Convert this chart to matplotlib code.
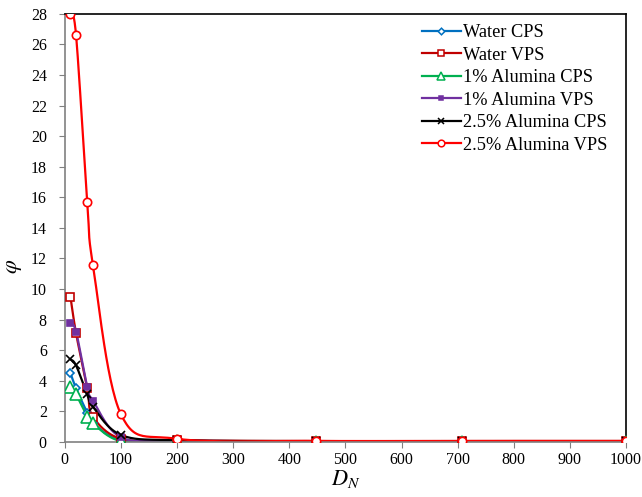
import numpy as np
import matplotlib
matplotlib.use("Agg")
import matplotlib.pyplot as plt

# ---- data ----
d_n = [10, 20, 40, 50, 100, 200, 447, 707, 1000]

water_cps = [4.5, 3.5, 1.9, 1.25, 0.1, 0.05, 0.03, 0.03, 0.03]
water_vps = [9.5, 7.1, 3.5, 1.65, 0.2, 0.1, 0.05, 0.05, 0.05]
al1_cps = [3.6, 3.1, 1.65, 1.2, 0.05, 0.03, 0.02, 0.02, 0.02]
al1_vps = [7.8, 7.2, 3.6, 2.7, 0.3, 0.08, 0.04, 0.04, 0.04]
al25_cps = [5.4, 5.0, 3.1, 2.3, 0.45, 0.1, 0.05, 0.05, 0.05]
al25_vps = [28.0, 26.6, 15.7, 11.6, 1.8, 0.2, 0.06, 0.06, 0.06]

labels = ['Water CPS', 'Water VPS', '1% Alumina CPS', '1% Alumina VPS',
          '2.5% Alumina CPS', '2.5% Alumina VPS']
series = [water_cps, water_vps, al1_cps, al1_vps, al25_cps, al25_vps]
colors = ['#0070C0', '#C00000', '#00B050', '#7030A0', '#000000', '#FF0000']
markers = ['D', 's', '^', 's', 'x', 'o']
msizes = [4.2, 5.8, 8, 4, 5.5, 6]
filled = [False, False, False, True, True, False]


def smooth(x, y, n=30):
    # Excel-style smoothed line (Bezier through the points), drawing only
    x = np.asarray(x, float); y = np.asarray(y, float)
    px = np.concatenate([[x[0]], x, [x[-1]]])
    py = np.concatenate([[y[0]], y, [y[-1]]])
    xs, ys = [], []
    t = np.linspace(0, 1, n)
    for i in range(1, len(px) - 2):
        p0 = np.array([px[i], py[i]]); p3 = np.array([px[i + 1], py[i + 1]])
        p1 = p0 + (np.array([px[i + 1], py[i + 1]]) - np.array([px[i - 1], py[i - 1]])) / 6
        p2 = p3 - (np.array([px[i + 2], py[i + 2]]) - np.array([px[i], py[i]])) / 6
        b = ((1 - t) ** 3)[:, None] * p0 + (3 * (1 - t) ** 2 * t)[:, None] * p1 \
            + (3 * (1 - t) * t ** 2)[:, None] * p2 + (t ** 3)[:, None] * p3
        xs.extend(b[:, 0]); ys.extend(b[:, 1])
    return xs, ys


plt.rcParams['font.family'] = 'Liberation Serif'
plt.rcParams['mathtext.fontset'] = 'stix'

fig = plt.figure(figsize=(6.42, 4.97), dpi=100)
ax = fig.add_axes([0.101, 0.111, 0.874, 0.861])

for y, lab, c, m, ms, f in zip(series, labels, colors, markers, msizes, filled):
    sx, sy = smooth(d_n, y)
    ax.plot(sx, sy, color=c, linewidth=1.6, zorder=2)
    ax.plot(d_n, y, linestyle='none', marker=m, markersize=ms, color=c,
            markerfacecolor=(c if f else 'white'), markeredgewidth=1.2, zorder=3)
    ax.plot([], [], color=c, linewidth=1.6, marker=m, markersize=ms * 0.8,
            markerfacecolor=(c if f else 'white'), markeredgewidth=1.1, label=lab)

ax.set_xlim(0, 1000)
ax.set_ylim(0, 28)
ax.set_xticks(np.arange(0, 1001, 100))
ax.set_yticks(np.arange(0, 29, 2))
ax.tick_params(labelsize=11.5, direction='out', length=4, color='#808080')
ax.tick_params(axis='y', pad=9)
for s in ['left', 'bottom']:
    ax.spines[s].set_color('#808080')
    ax.spines[s].set_linewidth(1.2)
for s in ['top', 'right']:
    ax.spines[s].set_color('black')
    ax.spines[s].set_linewidth(1.2)

ax.set_xlabel('$D_N$', fontsize=16, labelpad=0)
ax.set_ylabel(r'$\varphi$', fontsize=16)
ax.yaxis.set_label_coords(-0.072, 0.41)

ax.legend(loc='upper left', bbox_to_anchor=(0.63, 0.985), frameon=False,
          fontsize=13.2, handlelength=2.1, handletextpad=0.15, labelspacing=0.3,
          borderaxespad=0, borderpad=0.2)

fig.savefig('out.png', dpi=100)
